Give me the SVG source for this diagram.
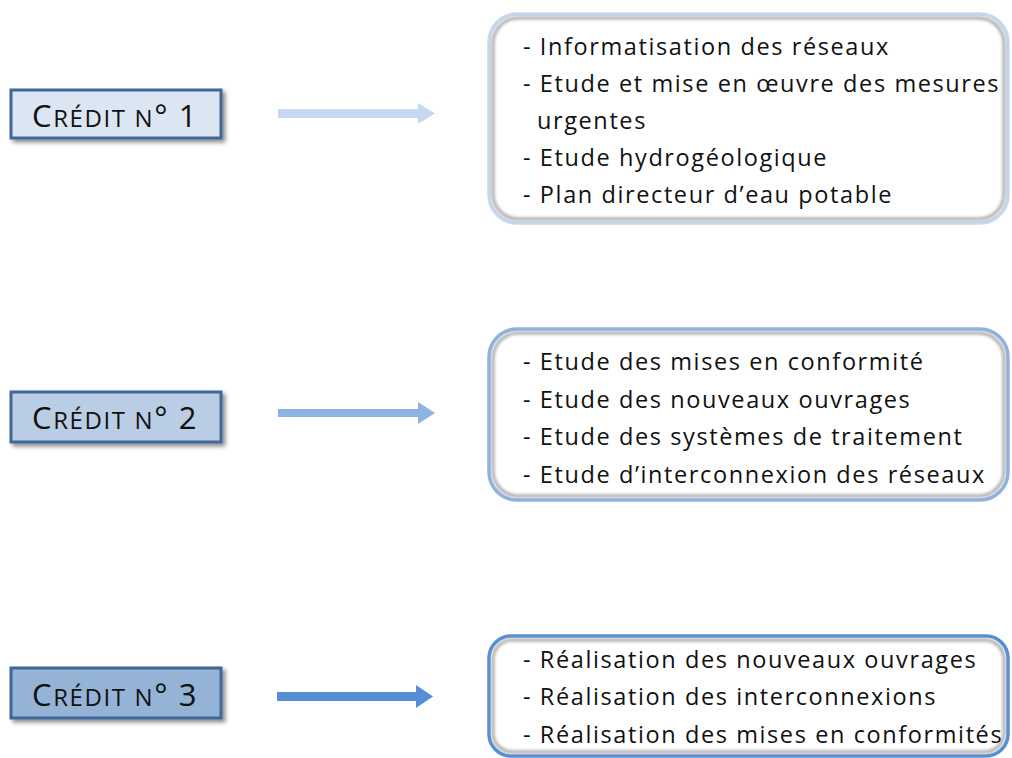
<svg xmlns="http://www.w3.org/2000/svg" width="1012" height="758" viewBox="0 0 1012 758">
<defs>
<filter id="sh" x="-10%" y="-20%" width="130%" height="150%">
<feGaussianBlur in="SourceAlpha" stdDeviation="2"/>
<feOffset dx="3" dy="3" result="b"/>
<feComponentTransfer><feFuncA type="linear" slope="0.45"/></feComponentTransfer>
<feMerge><feMergeNode/><feMergeNode in="SourceGraphic"/></feMerge>
</filter>
<filter id="blur" x="-5%" y="-5%" width="110%" height="110%"><feGaussianBlur stdDeviation="1.6"/></filter>
</defs>
<style>
.credit{stroke:#3f6797;stroke-width:3}
.ct{font-family:"Open Sans",Lato,sans-serif;font-size:31px;fill:#111;letter-spacing:1.6px}
.sc{font-size:24px}
.box{fill:#fff;stroke-width:3.5}
.inner{fill:none;stroke:#a6a6a6;stroke-width:3}
.t{font-family:"Open Sans",Lato,sans-serif;font-size:23.5px;fill:#111;letter-spacing:1.6px}
</style>
<rect width="1012" height="758" fill="#fff"/>
<g id="connectors">
<path d="M278 109 H418 V103 L435 113.5 L418 124 V118 H278 Z" fill="#c6d9f1"/>
<path d="M278 409 H418 V402 L435 413 L418 424 V417 H278 Z" fill="#8db3e2"/>
<path d="M277 692 H416 V685 L433 696.5 L416 708 V701 H277 Z" fill="#558ed5"/>
</g>
<g id="credit1">
<rect class="credit" x="11" y="90" width="210" height="48" fill="#dce6f2" filter="url(#sh)"/>
<text class="ct" x="115" y="127" text-anchor="middle">C<tspan class="sc">RÉDIT N</tspan>° 1</text>
</g>
<g id="credit2">
<rect class="credit" x="11" y="392" width="210" height="50" fill="#b9cde5" filter="url(#sh)"/>
<text class="ct" x="115" y="429" text-anchor="middle">C<tspan class="sc">RÉDIT N</tspan>° 2</text>
</g>
<g id="credit3">
<rect class="credit" x="11" y="668" width="210" height="50" fill="#95b3d7" filter="url(#sh)"/>
<text class="ct" x="115" y="706" text-anchor="middle">C<tspan class="sc">RÉDIT N</tspan>° 3</text>
</g>
<g id="box1">
<rect class="box" x="489" y="14" width="519" height="209" rx="28" stroke="#c6d9f1"/>
<rect class="inner" x="493" y="18" width="511" height="201" rx="25" filter="url(#blur)"/>
<text class="t" x="523" y="55">- Informatisation des réseaux</text>
<text class="t" x="523" y="92">- Etude et mise en œuvre des mesures</text>
<text class="t" x="537" y="129">urgentes</text>
<text class="t" x="523" y="166">- Etude hydrogéologique</text>
<text class="t" x="523" y="203">- Plan directeur d’eau potable</text>
</g>
<g id="box2">
<rect class="box" x="489" y="329" width="519" height="171" rx="28" stroke="#8db3e2"/>
<rect class="inner" x="493" y="333" width="511" height="163" rx="25" filter="url(#blur)"/>
<text class="t" x="523" y="370">- Etude des mises en conformité</text>
<text class="t" x="523" y="408">- Etude des nouveaux ouvrages</text>
<text class="t" x="523" y="445">- Etude des systèmes de traitement</text>
<text class="t" x="523" y="483">- Etude d’interconnexion des réseaux</text>
</g>
<g id="box3">
<rect class="box" x="489" y="636" width="519" height="120" rx="22" stroke="#558ed5"/>
<rect class="inner" x="493" y="640" width="511" height="112" rx="19" filter="url(#blur)"/>
<text class="t" x="523" y="668">- Réalisation des nouveaux ouvrages</text>
<text class="t" x="523" y="705">- Réalisation des interconnexions</text>
<text class="t" x="523" y="743">- Réalisation des mises en conformités</text>
</g>
</svg>
